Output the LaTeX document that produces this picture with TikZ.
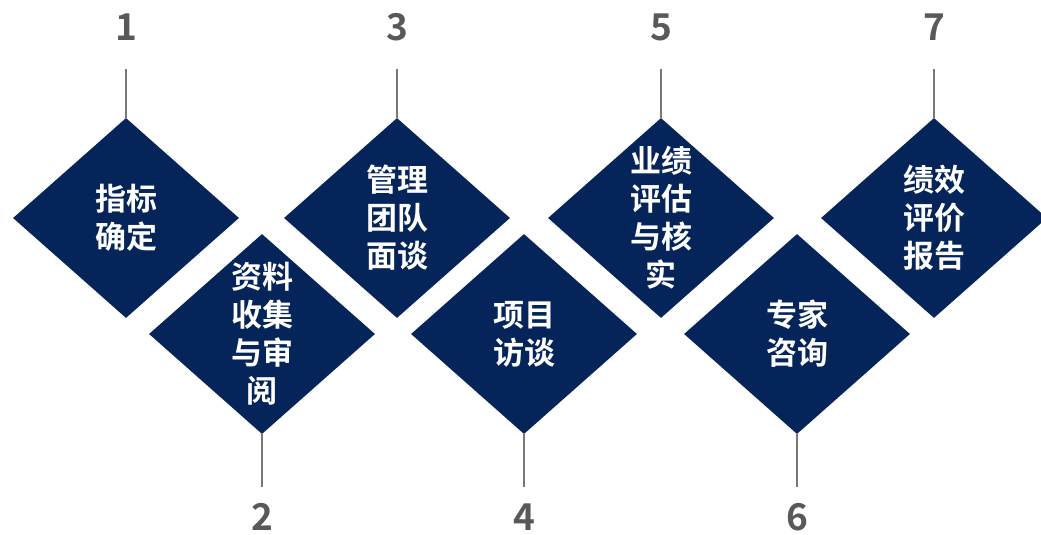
\documentclass[tikz,border=0pt]{standalone}
\usepackage{fontspec}
\usetikzlibrary{shapes.geometric}
\newfontfamily\cjk{Noto Sans CJK SC Bold}
\definecolor{navy}{RGB}{4,36,90}
\definecolor{numgray}{RGB}{89,89,89}
\definecolor{linegray}{RGB}{120,120,120}

\begin{document}
\begin{tikzpicture}[x=1pt,y=-1pt]

        % Styles
        \tikzstyle{stage}=[diamond,fill=navy,inner sep=0pt,minimum width=226pt,minimum height=200pt]
        \tikzstyle{stage text}=[text=white,font=\cjk\fontsize{31}{38}\selectfont,align=center]
        \tikzstyle{number}=[text=numgray,font=\cjk\fontsize{37}{40}\selectfont]
        \tikzstyle{leader}=[linegray,line width=1.5pt]
        %The graphic
        \useasboundingbox (0,0) rectangle (1041,535);
        % top row
        \foreach \i/\x/\txt in {1/126/{指标\\确定},3/397/{管理\\团队\\面谈},5/661/{业绩\\评估\\与核\\实},7/934/{绩效\\评价\\报告}}
        {
            \node[stage] (d\i) at (\x,218) {};
            \node[stage text] at (d\i) {\txt};
            \node[number] (n\i) at (\x,27) {\i};
            \coordinate (t\i) at (\x,69);
            \draw[leader] (d\i.north) -- (t\i);
        }
        % bottom row
        \foreach \i/\x/\txt in {2/262/{资料\\收集\\与审\\阅},4/524/{项目\\访谈},6/797/{专家\\咨询}}
        {
            \node[stage] (d\i) at (\x,334) {};
            \node[stage text] at (d\i) {\txt};
            \node[number] (n\i) at (\x,517) {\i};
            \coordinate (t\i) at (\x,487);
            \draw[leader] (d\i.south) -- (t\i);
        }
\end{tikzpicture}
\end{document}
